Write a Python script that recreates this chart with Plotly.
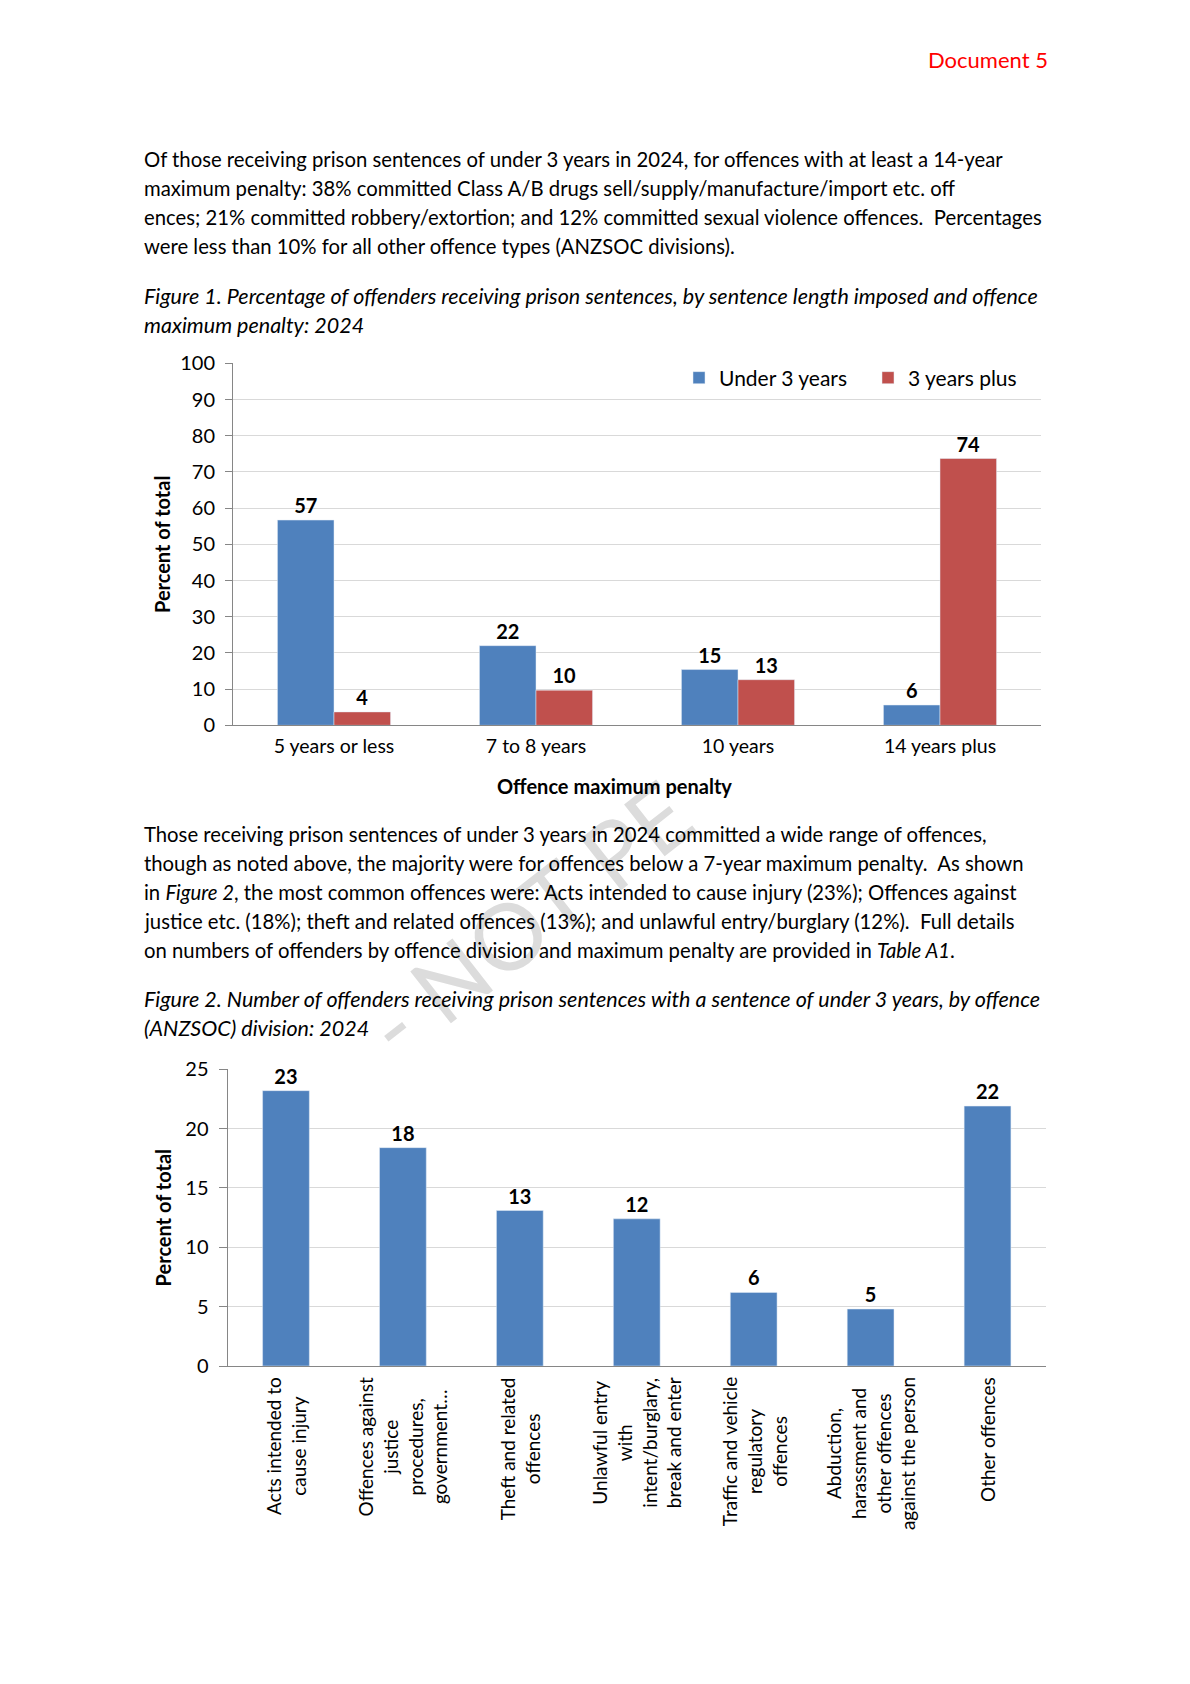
import plotly.graph_objects as go

# ---------------- data ----------------
penalty_categories = ["5 years or less", "7 to 8 years", "10 years", "14 years plus"]
under_3_years = [56.7, 22.0, 15.4, 5.6]
three_years_plus = [3.7, 9.7, 12.6, 73.7]

offence_categories = [
    "Acts intended to cause injury",
    "Offences against justice procedures, government...",
    "Theft and related offences",
    "Unlawful entry with intent/burglary, break and enter",
    "Traffic and vehicle regulatory offences",
    "Abduction, harassment and other offences against the person",
    "Other offences",
]
offence_tick_labels = [
    "Acts intended to<br>cause injury",
    "Offences against<br>justice<br>procedures,<br>government…",
    "Theft and related<br>offences",
    "Unlawful entry<br>with<br>intent/burglary,<br>break and enter",
    "Traffic and vehicle<br>regulatory<br>offences",
    "Abduction,<br>harassment and<br>other offences<br>against the person",
    "Other offences",
]
offence_percent = [23.2, 18.4, 13.1, 12.4, 6.2, 4.8, 21.9]

para1_lines = [
    "Of those receiving prison sentences of under 3 years in 2024, for offences with at least a 14-year",
    "maximum penalty: 38% committed Class A/B drugs sell/supply/manufacture/import etc. off",
    "ences; 21% committed robbery/extortion; and 12% committed sexual violence offences.&#160; Percentages",
    "were less than 10% for all other offence types (ANZSOC divisions).",
]
caption1_lines = [
    "Figure 1. Percentage of offenders receiving prison sentences, by sentence length imposed and offence",
    "maximum penalty: 2024",
]
para2_lines = [
    "Those receiving prison sentences of under 3 years in 2024 committed a wide range of offences,",
    "though as noted above, the majority were for offences below a 7-year maximum penalty.&#160; As shown",
    "in <i>Figure 2</i>, the most common offences were: Acts intended to cause injury (23%); Offences against",
    "justice etc. (18%); theft and related offences (13%); and unlawful entry/burglary (12%).&#160; Full details",
    "on numbers of offenders by offence division and maximum penalty are provided in <i>Table A1</i>.",
]
caption2_lines = [
    "Figure 2. Number of offenders receiving prison sentences with a sentence of under 3 years, by offence",
    "(ANZSOC) division: 2024",
]

# ---------------- styling ----------------
PAGE_W, PAGE_H = 1190, 1684
OFF = 8                      # page body margin in the browser
FW, FH = PAGE_W - OFF, PAGE_H - OFF
FONT = "Lato"
BLUE = "#4F81BD"
RED = "#C0504D"
GRID = "#D9D9D9"
AXIS = "#868686"
BODY = 20.3
ITAL = 21.5
LABEL = 20


def px(x):
    return (x - OFF) / FW


def py(y):
    return 1 - (y - OFF) / FH


fig = go.Figure()

fig.add_trace(go.Bar(
    x=penalty_categories, y=under_3_years, name="Under 3 years",
    marker=dict(color=BLUE), texttemplate="<b>%{y:.0f}</b>", textposition="outside",
    textfont=dict(size=LABEL, color="black", family=FONT), cliponaxis=False,
    constraintext="none", xaxis="x", yaxis="y",
))
fig.add_trace(go.Bar(
    x=penalty_categories, y=three_years_plus, name="3 years plus",
    marker=dict(color=RED), texttemplate="<b>%{y:.0f}</b>", textposition="outside",
    textfont=dict(size=LABEL, color="black", family=FONT), cliponaxis=False,
    constraintext="none", xaxis="x", yaxis="y",
))
fig.add_trace(go.Bar(
    x=offence_categories, y=offence_percent, name="Percent of total", showlegend=False,
    width=0.4, marker=dict(color=BLUE), texttemplate="<b>%{y:.0f}</b>",
    textposition="outside", textfont=dict(size=LABEL, color="black", family=FONT),
    cliponaxis=False, constraintext="none", xaxis="x2", yaxis="y2",
))

annotations = []

# watermark (drawn first so the text sits over it)
annotations.append(dict(
    text="- NOT PE", x=px(527), y=py(918), xref="paper", yref="paper",
    xanchor="center", yanchor="middle", showarrow=False, textangle=-38,
    font=dict(family=FONT, size=92, color="#DCDCDC"),
))

annotations.append(dict(
    text="Document 5", x=px(1050), y=py(60), xref="paper", yref="paper",
    xanchor="right", yanchor="middle", showarrow=False,
    font=dict(family=FONT, size=22, color="#FF0000"),
))

# x-axis title of figure 1 (placed where the source has it)
annotations.append(dict(
    text="<b>Offence maximum penalty</b>", x=px(614), y=py(786), xref="paper", yref="paper",
    xanchor="center", yanchor="middle", showarrow=False,
    font=dict(family=FONT, size=20, color="black"),
))


def add_lines(lines, ys, italic=False):
    for t, yy in zip(lines, ys):
        annotations.append(dict(
            text=f"<i>{t}</i>" if italic else t, x=px(142), y=py(yy),
            xref="paper", yref="paper", xanchor="left", yanchor="middle",
            showarrow=False,
            font=dict(family=FONT, size=ITAL if italic else BODY, color="black"),
        ))


add_lines(para1_lines, [158.5, 187.8, 217, 246.3])
add_lines(caption1_lines, [295.5, 324.5], italic=True)
add_lines(para2_lines, [834, 863, 892, 921, 950])
add_lines(caption2_lines, [999, 1028], italic=True)

# rotated category labels for figure 2 (centred lines like the source)
for cat, lab in zip(offence_categories, offence_tick_labels):
    annotations.append(dict(
        text=lab, x=cat, xref="x2", y=py(1375), yref="paper",
        xanchor="center", yanchor="top", textangle=-90, align="center",
        showarrow=False, font=dict(family=FONT, size=19, color="black"),
    ))

fig.update_layout(
    width=FW, height=FH, autosize=False,
    margin=dict(l=0, r=0, t=0, b=0),
    paper_bgcolor="white", plot_bgcolor="white",
    font=dict(family=FONT, color="black"),
    barmode="group", bargap=0.44, bargroupgap=0,
    showlegend=True,
    legend=dict(
        orientation="h", x=px(679), y=py(378), xanchor="left", yanchor="middle",
        font=dict(size=21, family=FONT), bgcolor="rgba(0,0,0,0)",
        entrywidth=144, entrywidthmode="pixels", itemwidth=30,
    ),
    xaxis=dict(
        domain=[px(233), px(1041)], anchor="y", showline=True, linecolor=AXIS,
        linewidth=1, ticks="", showgrid=False, tickfont=dict(size=19.5),
        ticklabelstandoff=3, automargin=False,
    ),
    yaxis=dict(
        domain=[py(725.3), py(363.3)], anchor="x", range=[0, 100], dtick=10,
        showgrid=True, gridcolor=GRID, gridwidth=1, zeroline=False,
        showline=True, linecolor=AXIS, ticks="outside", ticklen=7, tickcolor=AXIS,
        tickfont=dict(size=20), ticklabelstandoff=6, automargin=False,
        title=dict(text="<b>Percent of total</b>", font=dict(size=20), standoff=4),
    ),
    xaxis2=dict(
        domain=[px(227.5), px(1046)], anchor="y2", showline=True, linecolor=AXIS,
        linewidth=1, ticks="", showgrid=False, showticklabels=False, automargin=False,
    ),
    yaxis2=dict(
        domain=[py(1366), py(1069.3)], anchor="x2", range=[0, 25], dtick=5,
        showgrid=True, gridcolor=GRID, gridwidth=1, zeroline=False,
        showline=True, linecolor=AXIS, ticks="outside", ticklen=8, tickcolor=AXIS,
        tickfont=dict(size=20), ticklabelstandoff=6, automargin=False,
        title=dict(text="<b>Percent of total</b>", font=dict(size=20), standoff=8),
    ),
    annotations=annotations,
)

fig.write_html("out.html")
